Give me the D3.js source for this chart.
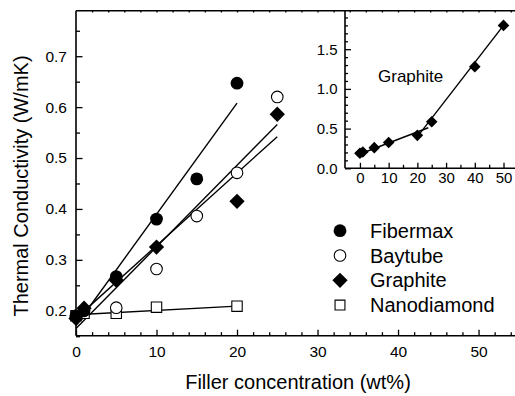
<!DOCTYPE html>
<html>
<head>
<meta charset="utf-8">
<script src="https://cdn.jsdelivr.net/npm/d3@7/dist/d3.min.js"></script>
<style>
  html, body { margin: 0; padding: 0; background: #fff; }
  svg { display: block; font-family: "Liberation Sans", Arial, Helvetica, sans-serif; }
</style>
</head>
<body>
<svg id="chart" width="515" height="396"></svg>
<script>
// Thermal conductivity (W/mK) versus filler loading (wt%)
const fibermaxX = [0, 1, 5, 10, 15, 20];
const fibermaxY = [0.19, 0.20, 0.267, 0.38, 0.459, 0.647];

const baytubeX = [0, 5, 10, 15, 20, 25];
const baytubeY = [0.19, 0.206, 0.282, 0.386, 0.471, 0.62];

const graphiteX = [0, 1, 5, 10, 20, 25];
const graphiteY = [0.185, 0.205, 0.26, 0.325, 0.415, 0.586];

const nanodiamondX = [0, 1, 5, 10, 20];
const nanodiamondY = [0.19, 0.195, 0.195, 0.207, 0.209];

// Linear fits: [x0, y0, x1, y1]
const fibermaxFit = [0, 0.171, 20, 0.608];
const baytubeFit = [0, 0.165, 25, 0.566];
const graphiteFit = [0, 0.185, 25, 0.542];
const nanodiamondFit = [0, 0.192, 20, 0.209];

// Inset: graphite over the full loading range
const insetX = [0, 1, 5, 10, 20, 25, 40, 50];
const insetY = [0.19, 0.205, 0.26, 0.325, 0.415, 0.586, 1.28, 1.80];
const insetFitLow = [0, 0.18, 23.8, 0.511];
const insetFitHigh = [20.9, 0.44, 50, 1.80];

const xMajorTicks = [0, 10, 20, 30, 40, 50];
const yMajorTicks = [0.2, 0.3, 0.4, 0.5, 0.6, 0.7];
const insetXTicks = [0, 10, 20, 30, 40, 50];
const insetYTicks = [0, 0.5, 1.0, 1.5];

const legendNames = ["Fibermax", "Baytube", "Graphite", "Nanodiamond"];

const svg = d3.select("#chart");

const x = d3.scaleLinear().domain([0, 55]).range([76, 518.8]);
const y = d3.scaleLinear().domain([0.15, 0.79]).range([336.2, 10.4]);

const ix = d3.scaleLinear().domain([-5.2, 54]).range([345, 515]);
const iy = d3.scaleLinear().domain([0, 2.0]).range([168.3, 9.5]);

const axisColor = "#000";
const plotBottom = 335.7, plotTop = 10.7, plotLeft = 76;

function styleAxis(g, fontSize) {
  g.select(".domain").remove();
  g.selectAll(".tick line").attr("stroke", axisColor).attr("stroke-width", 1.3);
  g.selectAll(".tick text").attr("fill", "#000").attr("font-size", fontSize)
    .attr("font-family", "\"Liberation Sans\", Arial, sans-serif");
}

// ---- main axes ----
const xMinor = d3.range(0, 55, 2).filter(v => v % 10 !== 0);
const yMinor = d3.range(0.15, 0.79, 0.1).map(v => +v.toFixed(2));

svg.append("g").attr("transform", `translate(0,${plotBottom})`)
  .call(d3.axisBottom(x).tickValues(xMajorTicks).tickSize(-6).tickPadding(10).tickSizeOuter(0).tickFormat(d3.format("d")))
  .call(g => styleAxis(g, 15.5));
svg.append("g").attr("transform", `translate(0,${plotBottom})`)
  .call(d3.axisBottom(x).tickValues(xMinor).tickSize(-3.5).tickFormat(""))
  .call(g => styleAxis(g, 15.5));

svg.append("g").attr("transform", `translate(0,${plotTop})`)
  .call(d3.axisTop(x).tickValues(d3.range(2, 55, 2)).tickSize(-1.8).tickFormat(""))
  .call(g => styleAxis(g, 15.5));

svg.append("g").attr("transform", `translate(${plotLeft},0)`)
  .call(d3.axisLeft(y).tickValues(yMajorTicks).tickSize(-6.5).tickPadding(9).tickFormat(d3.format(".1f")))
  .call(g => styleAxis(g, 15.5));
svg.append("g").attr("transform", `translate(${plotLeft},0)`)
  .call(d3.axisLeft(y).tickValues(yMinor).tickSize(-4).tickFormat(""))
  .call(g => styleAxis(g, 15.5));

// frame lines
svg.append("line").attr("x1", plotLeft).attr("x2", 515).attr("y1", plotBottom).attr("y2", plotBottom)
  .attr("stroke", axisColor).attr("stroke-width", 1.6);
svg.append("line").attr("x1", plotLeft).attr("x2", 515).attr("y1", plotTop).attr("y2", plotTop)
  .attr("stroke", axisColor).attr("stroke-width", 1.6);
svg.append("line").attr("x1", plotLeft).attr("x2", plotLeft).attr("y1", plotTop).attr("y2", plotBottom)
  .attr("stroke", axisColor).attr("stroke-width", 1.6);

// axis titles
svg.append("text").attr("x", 298).attr("y", 389).attr("text-anchor", "middle")
  .attr("font-size", 20).text("Filler concentration (wt%)");
svg.append("text").attr("transform", "translate(28,186) rotate(-90)").attr("text-anchor", "middle")
  .attr("font-size", 20).text("Thermal Conductivity (W/mK)");

// ---- fit lines ----
function fitLine(fit, sx, sy) {
  svg.append("line")
    .attr("x1", sx(fit[0])).attr("y1", sy(fit[1]))
    .attr("x2", sx(fit[2])).attr("y2", sy(fit[3]))
    .attr("stroke", "#000").attr("stroke-width", 1.4);
}
fitLine(fibermaxFit, x, y);
fitLine(baytubeFit, x, y);
fitLine(graphiteFit, x, y);
fitLine(nanodiamondFit, x, y);

// ---- markers ----
const circleSym = d3.symbol().type(d3.symbolCircle);
const squareSym = d3.symbol().type(d3.symbolSquare);

function drawSeries(xs, ys, kind, sx, sy, scale) {
  const s = scale || 1;
  const pts = xs.map((v, i) => [sx(v), sy(ys[i])]);
  const g = svg.append("g");
  pts.forEach(([px, py]) => drawMarker(g, kind, px, py, s));
}

function drawMarker(g, kind, px, py, s) {
  if (kind === "filledCircle") {
    g.append("path").attr("d", circleSym.size(Math.PI * 6.4 * 6.4 * s * s)())
      .attr("transform", `translate(${px},${py})`).attr("fill", "#000");
  } else if (kind === "openCircle") {
    g.append("path").attr("d", circleSym.size(Math.PI * 5.8 * 5.8 * s * s)())
      .attr("transform", `translate(${px},${py})`).attr("fill", "#fff")
      .attr("stroke", "#000").attr("stroke-width", 1.1);
  } else if (kind === "diamond") {
    const side = 10.8 * s;
    g.append("path").attr("d", squareSym.size(side * side)())
      .attr("transform", `translate(${px},${py}) rotate(45)`).attr("fill", "#000");
  } else if (kind === "square") {
    const side = 10.4 * s;
    g.append("path").attr("d", squareSym.size(side * side)())
      .attr("transform", `translate(${px},${py})`).attr("fill", "#fff")
      .attr("stroke", "#000").attr("stroke-width", 1.1);
  }
}

drawSeries(nanodiamondX, nanodiamondY, "square", x, y);
drawSeries(baytubeX, baytubeY, "openCircle", x, y);
drawSeries(fibermaxX, fibermaxY, "filledCircle", x, y);
drawSeries(graphiteX, graphiteY, "diamond", x, y);

// ---- legend ----
const legendKinds = ["filledCircle", "openCircle", "diamond", "square"];
const legendG = svg.append("g");
legendNames.forEach((name, i) => {
  const ly = 230.7 + i * 24.8;
  drawMarker(legendG, legendKinds[i], 340, ly, i === 3 ? 0.95 : 1);
  legendG.append("text").attr("x", 370).attr("y", ly + 7).attr("font-size", 20).text(name);
});

// ---- inset ----
svg.append("g").attr("transform", `translate(0,${iy(0)})`)
  .call(d3.axisBottom(ix).tickValues(insetXTicks).tickSize(-5.5).tickPadding(4).tickFormat(d3.format("d")))
  .call(g => styleAxis(g, 15));
svg.append("g").attr("transform", `translate(0,${iy(0)})`)
  .call(d3.axisBottom(ix).tickValues([5, 15, 25, 35, 45]).tickSize(-3.5).tickFormat(""))
  .call(g => styleAxis(g, 15));
svg.append("g").attr("transform", `translate(345,0)`)
  .call(d3.axisLeft(iy).tickValues(insetYTicks).tickSize(-6).tickPadding(7.5).tickFormat(d3.format(".1f")))
  .call(g => styleAxis(g, 15));
svg.append("g").attr("transform", `translate(345,0)`)
  .call(d3.axisLeft(iy).tickValues(d3.range(0.1, 2.0, 0.1).map(v => +v.toFixed(1)).filter(v => Math.abs(v * 2 - Math.round(v * 2)) > 1e-6)).tickSize(-3).tickFormat(""))
  .call(g => styleAxis(g, 15));

svg.append("line").attr("x1", 345).attr("x2", 515).attr("y1", iy(0)).attr("y2", iy(0))
  .attr("stroke", axisColor).attr("stroke-width", 1.6);
svg.append("line").attr("x1", 345).attr("x2", 345).attr("y1", plotTop).attr("y2", iy(0))
  .attr("stroke", axisColor).attr("stroke-width", 1.6);

fitLine(insetFitLow, ix, iy);
fitLine(insetFitHigh, ix, iy);
drawSeries(insetX, insetY, "diamond", ix, iy, 0.76);

svg.append("text").attr("x", 378).attr("y", 81.5).attr("font-size", 17).text("Graphite");
</script>
</body>
</html>
